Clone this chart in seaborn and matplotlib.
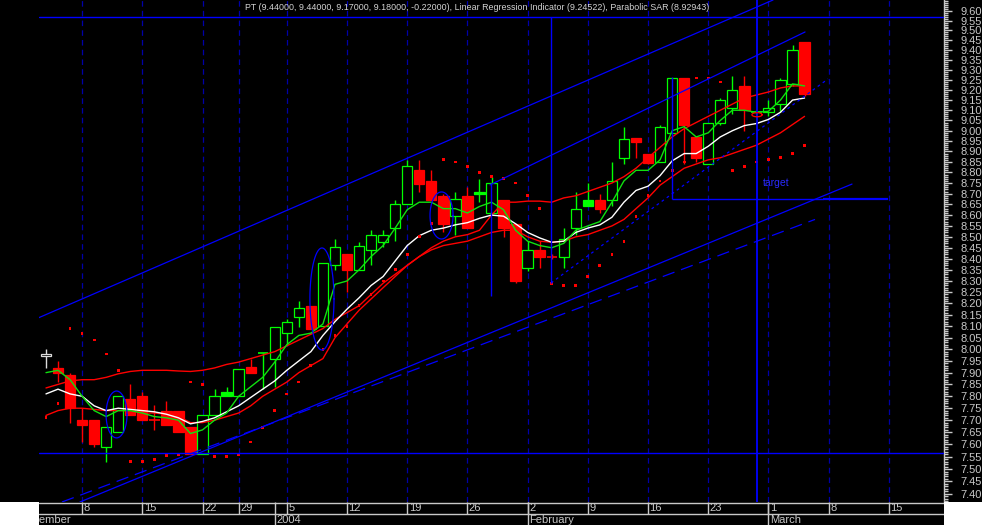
import numpy as np
import seaborn as sns
import matplotlib.pyplot as plt
from matplotlib.patches import Rectangle
from matplotlib.ticker import FixedLocator, FuncFormatter, NullFormatter

# daily bars, trading day index 0 = 3 Dec 2003 ... 63 = 4 Mar 2004
opens = [7.97, 7.92, 7.89, 7.70, 7.70, 7.59, 7.65, 7.79, 7.80, 7.70,
         7.74, 7.74, 7.67, 7.56, 7.72, 7.80, 7.80, 7.925, 7.985, 7.96,
         8.07, 8.14, 8.19, 8.10, 8.37, 8.42, 8.35, 8.44, 8.475, 8.54,
         8.65, 8.81, 8.76, 8.69, 8.595, 8.69, 8.70, 8.61, 8.67, 8.56,
         8.36, 8.44, 8.41, 8.41, 8.54, 8.64, 8.67, 8.67, 8.87, 8.965,
         8.89, 8.85, 8.99, 9.26, 8.97, 8.84, 9.04, 9.11, 9.22, 9.09,
         9.09, 9.13, 9.23, 9.44]
highs = [8.00, 7.95, 7.90, 7.75, 7.70, 7.67, 7.80, 7.85, 7.82, 7.765,
         7.78, 7.74, 7.67, 7.72, 7.83, 7.84, 7.915, 7.96, 7.985, 8.095,
         8.13, 8.21, 8.19, 8.38, 8.49, 8.42, 8.475, 8.53, 8.53, 8.67,
         8.86, 8.86, 8.81, 8.70, 8.71, 8.73, 8.77, 8.78, 8.67, 8.56,
         8.48, 8.48, 8.42, 8.54, 8.71, 8.75, 8.70, 8.85, 9.02, 8.965,
         8.89, 9.03, 9.26, 9.26, 8.97, 9.04, 9.16, 9.27, 9.27, 9.10,
         9.15, 9.26, 9.425, 9.44]
lows = [7.92, 7.86, 7.69, 7.61, 7.59, 7.53, 7.65, 7.72, 7.70, 7.66,
        7.68, 7.65, 7.56, 7.56, 7.72, 7.80, 7.80, 7.90, 7.83, 7.84,
        8.02, 8.095, 8.09, 8.10, 8.35, 8.25, 8.35, 8.37, 8.455, 8.48,
        8.65, 8.71, 8.67, 8.52, 8.51, 8.54, 8.66, 8.61, 8.50, 8.29,
        8.345, 8.36, 8.40, 8.36, 8.51, 8.64, 8.61, 8.64, 8.84, 8.87,
        8.84, 8.85, 8.99, 8.84, 8.85, 8.84, 9.03, 9.08, 9.00, 9.08,
        9.07, 9.09, 9.22, 9.17]
closes = [7.98, 7.90, 7.75, 7.68, 7.60, 7.67, 7.80, 7.72, 7.70, 7.70,
          7.68, 7.65, 7.56, 7.72, 7.80, 7.82, 7.915, 7.90, 7.985, 8.095,
          8.12, 8.18, 8.09, 8.38, 8.455, 8.35, 8.46, 8.51, 8.51, 8.65,
          8.83, 8.745, 8.67, 8.56, 8.675, 8.54, 8.71, 8.75, 8.54, 8.30,
          8.44, 8.41, 8.41, 8.49, 8.63, 8.67, 8.63, 8.76, 8.96, 8.945,
          8.845, 9.02, 9.26, 9.03, 8.87, 9.04, 9.15, 9.20, 9.10, 9.09,
          9.11, 9.25, 9.40, 9.18]
# w = first bar, g = hollow green, G = solid green, r = red
kinds = list("wrrrrggrrr" "rrrggGgrgg" "ggrggrgggg" "grrrgrGgrr"
             "grrggGrggr" "rggrrgggrg" "gggr")

ma_fast = [7.90, 7.91, 7.87, 7.80, 7.74, 7.715, 7.74, 7.74, 7.73, 7.715,
           7.71, 7.70, 7.645, 7.66, 7.70, 7.73, 7.80, 7.84, 7.88, 7.945,
           8.02, 8.06, 8.07, 8.11, 8.285, 8.30, 8.35, 8.41, 8.46, 8.54,
           8.625, 8.66, 8.66, 8.63, 8.63, 8.61, 8.64, 8.66, 8.625, 8.53,
           8.48, 8.46, 8.45, 8.47, 8.53, 8.55, 8.57, 8.66, 8.76, 8.81,
           8.81, 8.86, 9.00, 9.02, 8.97, 8.99, 9.05, 9.10, 9.10, 9.09,
           9.095, 9.15, 9.23, 9.22]
ma_mid = [7.81, 7.83, 7.81, 7.80, 7.76, 7.74, 7.75, 7.745, 7.74, 7.735,
          7.725, 7.71, 7.685, 7.695, 7.71, 7.735, 7.76, 7.795, 7.83, 7.865,
          7.91, 7.95, 7.99, 8.06, 8.12, 8.175, 8.225, 8.28, 8.32, 8.39,
          8.46, 8.505, 8.53, 8.54, 8.555, 8.565, 8.585, 8.60, 8.595, 8.56,
          8.52, 8.495, 8.475, 8.48, 8.52, 8.54, 8.555, 8.59, 8.66, 8.715,
          8.735, 8.785, 8.855, 8.89, 8.89, 8.925, 8.97, 9.00, 9.025, 9.035,
          9.055, 9.09, 9.15, 9.16]
band_up = [7.835, 7.85, 7.865, 7.87, 7.87, 7.88, 7.895, 7.905, 7.91, 7.91,
           7.91, 7.907, 7.905, 7.91, 7.92, 7.935, 7.945, 7.96, 7.975, 7.99,
           8.015, 8.04, 8.065, 8.09, 8.13, 8.16, 8.19, 8.24, 8.29, 8.33,
           8.37, 8.41, 8.45, 8.48, 8.50, 8.51, 8.53, 8.60, 8.66, 8.66,
           8.665, 8.665, 8.66, 8.68, 8.69, 8.71, 8.73, 8.75, 8.78, 8.82,
           8.87, 8.92, 8.97, 9.01, 9.04, 9.07, 9.10, 9.13, 9.16, 9.175,
           9.19, 9.21, 9.22, 9.22]
band_lo = [7.72, 7.74, 7.75, 7.75, 7.745, 7.74, 7.74, 7.74, 7.73, 7.73,
           7.725, 7.715, 7.69, 7.69, 7.70, 7.715, 7.73, 7.76, 7.80, 7.83,
           7.86, 7.90, 7.93, 7.96, 8.05, 8.11, 8.17, 8.22, 8.27, 8.32,
           8.37, 8.41, 8.44, 8.46, 8.47, 8.48, 8.50, 8.52, 8.53, 8.53,
           8.50, 8.48, 8.475, 8.48, 8.50, 8.51, 8.53, 8.55, 8.58, 8.63,
           8.68, 8.74, 8.78, 8.82, 8.84, 8.86, 8.87, 8.89, 8.91, 8.93,
           8.96, 8.99, 9.03, 9.07]
sar = [7.71, 7.77, 8.09, 8.07, 8.04, 7.98, 7.91, 7.53, 7.53, 7.54,
       7.555, 7.56, 7.86, 7.85, 7.55, 7.55, 7.56, 7.61, 7.67, 7.74,
       7.81, 7.86, 7.93, 8.00, 8.06, 8.10, 8.19, 8.24, 8.30, 8.35,
       8.42, 8.50, 8.56, 8.86, 8.85, 8.83, 8.80, 8.78, 8.77, 8.75,
       8.69, 8.63, 8.29, 8.28, 8.28, 8.32, 8.37, 8.42, 8.48, 8.595,
       8.69, 8.76, 8.81, 8.85, 9.26, 9.26, 9.24, 8.81, 8.83, 8.85,
       8.86, 8.87, 8.89, 8.93]

# calendar strip
week_idx = [3, 8, 13, 16, 20, 25, 30, 35, 40, 45, 50, 55, 60, 65, 70]
week_lbl = ["8", "15", "22", "29", "5", "12", "19", "26", "2", "9", "16", "23", "1", "8", "15"]
month_idx = [-2.35, 19, 40, 60]
month_lbl = ["December", "2004", "February", "March"]

price_ticks = np.round(np.arange(7.40, 9.601, 0.05), 2)
minor_ticks = np.round(np.arange(7.37, 9.651, 0.01), 2)

title = ("PT (9.44000, 9.44000, 9.17000, 9.18000, -0.22000), "
         "Linear Regression Indicator (9.24522), Parabolic SAR (8.92943)")

# drawn studies: (x0, y0, x1, y1) in day index / price
chan_upper = (-0.66, 8.136, 60.38, 9.657)
chan_upper2 = (36.88, 8.741, 63.04, 9.492)
chan_lower = (2.82, 7.368, 66.94, 8.745)
chan_lower_dash = (1.33, 7.368, 63.87, 8.580)
trend_dotted = (41.94, 8.291, 64.95, 9.255)
support = 7.566
resist = 9.569
target_lvl = 8.675

sns.set_theme(style="dark")
plt.rcParams['font.family'] = ['Liberation Sans', 'DejaVu Sans']
plt.rcParams['lines.scale_dashes'] = False

BLUE = "#0000ff"
NAVY = "#0000a8"
GREEN = "#00ff00"
RED = "#ff0000"
GREY = "#c8c8c8"

fig = plt.figure(figsize=(9.82, 5.25), dpi=100, facecolor="black")
ax = fig.add_axes([39 / 982, 23 / 525, 905 / 982, 502 / 525])
axd = fig.add_axes([39 / 982, 0, 905 / 982, 23 / 525], sharex=ax)
fig.patches.append(Rectangle((0, 0), 39 / 982, 23 / 525, transform=fig.transFigure,
                             facecolor="white", edgecolor="none"))
fig.patches.append(Rectangle((944 / 982, 0), 38 / 982, 23 / 525, transform=fig.transFigure,
                             facecolor="white", edgecolor="none"))

ax.set_facecolor("black")
ax.set_yscale("log")
ax.set_xlim(-0.58, 74.58)
ax.set_ylim(7.368, 9.657)
for s in ["top", "left", "bottom"]:
    ax.spines[s].set_visible(False)
ax.spines["right"].set_color(GREY)
ax.spines["right"].set_linewidth(1)
ax.grid(False)
ax.yaxis.tick_right()
ax.yaxis.set_major_locator(FixedLocator(price_ticks))
ax.yaxis.set_major_formatter(FuncFormatter(lambda v, _: f"{v:.2f}"))
ax.yaxis.set_minor_locator(FixedLocator(minor_ticks))
ax.yaxis.set_minor_formatter(NullFormatter())
ax.tick_params(axis="y", which="major", length=6, width=1, color=GREY,
               labelcolor=GREY, labelsize=8, pad=6, right=True, left=False)
ax.tick_params(axis="y", which="minor", length=3, width=1, color=GREY, right=True, left=False)
ax.tick_params(axis="x", bottom=False, labelbottom=False)

# weekly grid
for w in week_idx:
    ax.axvline(w, color=NAVY, lw=0.9, ls=(0, (4, 3)), zorder=1)

# candles
x = np.arange(len(opens))
for i in x:
    o, h, l, c, k = opens[i], highs[i], lows[i], closes[i], kinds[i]
    col = {"w": "#dcdcdc", "g": GREEN, "G": GREEN, "r": RED}[k]
    ax.vlines(i, l, h, color=col, lw=1, zorder=2)
    if abs(c - o) < 1e-9:
        ax.hlines(o, i - 0.43, i + 0.43, color=col, lw=1.2, zorder=3)
        continue
    face = col if k in "Gr" else "black"
    ax.bar(i, abs(c - o), bottom=min(o, c), width=0.86, facecolor=face,
           edgecolor=col, lw=0.9, zorder=3)

# moving averages and parabolic SAR
sns.lineplot(x=x, y=band_up, color=RED, lw=1, ax=ax, zorder=5)
sns.lineplot(x=x, y=band_lo, color=RED, lw=1, ax=ax, zorder=5)
sns.lineplot(x=x, y=ma_mid, color="white", lw=1, ax=ax, zorder=5)
sns.lineplot(x=x, y=ma_fast, color="#10e010", lw=1, ax=ax, zorder=5)
sns.scatterplot(x=x, y=sar, marker="s", s=4, color=RED, edgecolor="none", ax=ax, zorder=5)

# channel and trend lines
for seg, ls in [(chan_upper, "-"), (chan_upper2, "-"), (chan_lower, "-"),
                (chan_lower_dash, (0, (9, 5))), (trend_dotted, (0, (2, 2.5)))]:
    ax.plot([seg[0], seg[2]], [seg[1], seg[3]], color=BLUE, lw=0.9, ls=ls, zorder=6)
ax.axhline(support, color=BLUE, lw=1, zorder=6)
ax.axhline(resist, color=BLUE, lw=1, zorder=6)
ax.axvline(59.01, color=BLUE, lw=1.3, zorder=6)
ax.vlines([41.94, 36.96, 51.99], [8.291, 8.233, 8.675], [resist, 8.750, 9.265],
          color=BLUE, lw=1, zorder=6)
ax.hlines(target_lvl, 51.99, 64.53, color=BLUE, lw=1, zorder=6)
ax.hlines(target_lvl, 64.53, 69.93, color=BLUE, lw=1.6, zorder=6)
ax.text(59.55, 8.75, "target", color="#2a2aff", fontsize=7.5, va="center", ha="left", zorder=7)


def ring(cx, lo, hi, w, color):
    t = np.linspace(0, 2 * np.pi, 120)
    mid, half = (np.log(lo) + np.log(hi)) / 2, (np.log(hi) - np.log(lo)) / 2
    ax.plot(cx + w / 2 * np.cos(t), np.exp(mid + half * np.sin(t)), color=color, lw=0.9, zorder=6)


ring(5.86, 7.627, 7.822, 1.74, BLUE)
ring(22.92, 7.997, 8.449, 2.0, BLUE)
ring(32.85, 8.490, 8.708, 1.91, BLUE)
ring(59.05, 9.068, 9.088, 0.85, RED)

fig.text(477 / 982, 1 - 7 / 525, title, ha="center", va="center", color="#d4d4d4", fontsize=6.4)

# date strip
axd.set_facecolor("black")
axd.set_ylim(0, 23)
axd.axis("off")
axd.axhline(22.5, color=GREY, lw=1)
axd.axhline(11.3, color=GREY, lw=1)
for w, lbl in zip(week_idx, week_lbl):
    axd.vlines(w, 11.3, 23, color=GREY, lw=1)
    axd.text(w + 0.12, 16.8, lbl, color=GREY, fontsize=8, va="center", ha="left", clip_on=True)
for m, lbl in zip(month_idx, month_lbl):
    axd.vlines(m, 0, 23, color=GREY, lw=1)
    axd.text(m + 0.12, 5.3, lbl, color=GREY, fontsize=8, va="center", ha="left", clip_on=True)

fig.savefig("out.png", dpi=100, facecolor="black")
